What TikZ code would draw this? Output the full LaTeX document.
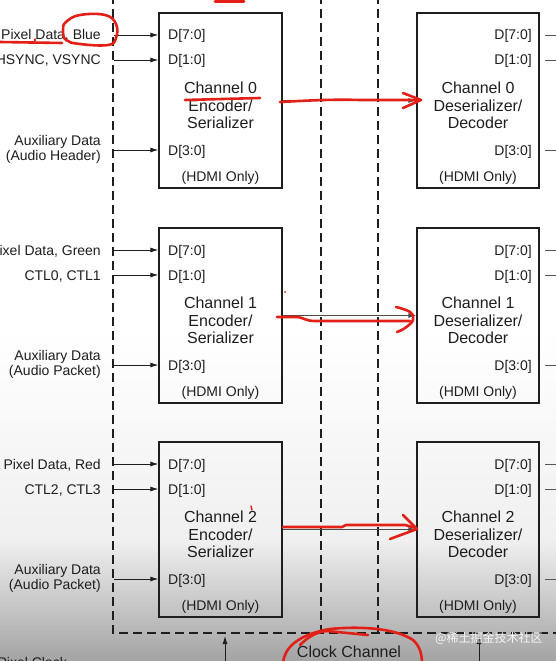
\documentclass[tikz,border=0pt]{standalone}
\usepackage{fontspec}
\setmainfont{Liberation Sans}
\newfontfamily\cjkfont{Noto Sans CJK SC}
\usetikzlibrary{arrows.meta}
\definecolor{ink}{HTML}{1E1E1E}
\definecolor{annot}{RGB}{226,32,24}
\tikzset{
  chbox/.style={draw=ink, line width=1.3pt, minimum width=123pt, minimum height=175pt, inner sep=0pt},
  port/.style={font=\fontsize{14}{15}\selectfont, text=ink, inner sep=0pt},
  title/.style={font=\fontsize{16}{17.5}\selectfont, text=ink, align=center, inner sep=0pt},
  inlabel/.style={font=\fontsize{14}{15}\selectfont, text=ink, inner sep=0pt, align=right},
  feed/.style={draw=ink, line width=0.9pt, -{Latex[length=8pt,width=5pt]}},
  outline/.style={draw=ink!75, line width=0.9pt},
  dashline/.style={draw=ink, line width=1.6pt, dash pattern=on 9pt off 5pt},
  redpen/.style={draw=annot, line width=2.6pt, line cap=round, line join=round},
}
\begin{document}
\begin{tikzpicture}[x=1pt,y=-1pt]
\useasboundingbox (0,0) rectangle (556,661);
\clip (0,0) rectangle (556,661);
\fill[white] (0,0) rectangle (556,661);
\shade[top color=white, bottom color=black!6] (0,330) rectangle (556,541);
\shade[top color=black!6, bottom color=black!36] (0,540) rectangle (556,661);

% dashed boundaries
\draw[dashline] (113,-5) -- (113,633) -- (565,633);
\draw[dashline] (321,-5) -- (321,633);
\draw[dashline] (378,-5) -- (378,633);

\foreach \i/\T/\pa/\pb/\ax in {0/13/{Pixel Data, Blue}/{HSYNC, VSYNC}/{Audio Header},
                               1/228/{Pixel Data, Green}/{CTL0, CTL1}/{Audio Packet},
                               2/442/{Pixel Data, Red}/{CTL2, CTL3}/{Audio Packet}} {
  \node[chbox] (enc\i) at (220.5,\T+87.5) {};
  \node[chbox, minimum width=122pt] (dec\i) at (478,\T+87.5) {};
  \node[title] (enct\i) at (220.5,\T+92.5) {Channel \i\\Encoder/\\Serializer};
  \node[title] (dect\i) at (478,\T+92.5) {Channel \i\\Deserializer/\\Decoder};
  % encoder ports
  \node[port, anchor=base west] (e7\i) at (168,\T+27) {D[7:0]};
  \node[port, anchor=base west] (e1\i) at (168,\T+52) {D[1:0]};
  \node[port, anchor=base west] (e3\i) at (168,\T+142) {D[3:0]};
  \node[port, anchor=base] (eh\i) at (220.5,\T+168) {(HDMI Only)};
  % decoder ports
  \node[port, anchor=base east] (d7\i) at (532,\T+27) {D[7:0]};
  \node[port, anchor=base east] (d1\i) at (532,\T+52) {D[1:0]};
  \node[port, anchor=base east] (d3\i) at (532,\T+142) {D[3:0]};
  \node[port, anchor=base] (dh\i) at (478,\T+168) {(HDMI Only)};
  % input labels
  \node[inlabel, anchor=base east] (la\i) at (101,\T+27) {\pa};
  \node[inlabel, anchor=base east] (lb\i) at (101,\T+52) {\pb};
  \node[inlabel, anchor=east] (lx\i) at (101,\T+136) {Auxiliary Data\\(\ax)};
  % input arrows
  \coordinate (ia\i) at (114,\T+22);
  \coordinate (ib\i) at (114,\T+47);
  \coordinate (ix\i) at (114,\T+137);
  \draw[feed] (ia\i) -- (ia\i -| enc\i.west);
  \draw[feed] (ib\i) -- (ib\i -| enc\i.west);
  \draw[feed] (ix\i) -- (ix\i -| enc\i.west);
  % outputs
  \coordinate (oa\i) at (545,\T+22);  \coordinate (oaa\i) at (560,\T+22);
  \coordinate (ob\i) at (545,\T+47);  \coordinate (obb\i) at (560,\T+47);
  \coordinate (ox\i) at (545,\T+137); \coordinate (oxx\i) at (560,\T+137);
  \draw[outline] (oa\i) -- (oaa\i);
  \draw[outline] (ob\i) -- (obb\i);
  \draw[outline] (ox\i) -- (oxx\i);
  % serial link
  \draw[feed, draw=ink!80] (enc\i) -- (dec\i);
}

% clock
\node[title] (clk) at (349,652) {Clock Channel};
\node[port, anchor=base east] (pclk) at (67,667) {Pixel Clock};
\coordinate (ck0) at (225,665); \coordinate (ck0t) at (225,636);
\coordinate (ck1) at (479,665); \coordinate (ck1t) at (479,636);
\draw[feed] (ck0) -- (ck0t);
\draw[feed] (ck1) -- (ck1t);

% watermark
\node[font=\cjkfont\fontsize{12}{12}\selectfont, text=gray!8, anchor=west, inner sep=0pt] (wm) at (435,638) {@稀土掘金技术社区};

% red hand annotations
\draw[redpen, line width=3pt] (215,1.5) -- (244,1.5);
\draw[redpen] plot[smooth cycle, tension=0.7] coordinates {(66,22) (80,15) (105,15) (116,24) (116,38) (108,45) (80,44) (66,40) (63,30)};
\draw[redpen] (0,42) -- (62,43);
\draw[redpen, line width=1.4pt] (35,39) -- (35,41);
\draw[redpen] (185,100) -- (260,98);
% arrow 0
\draw[redpen] (280,102) .. controls (300,101) and (330,99) .. (360,100) -- (419,100);
\draw[redpen] (403,93) -- (421,100) -- (403,108);
% arrow 1
\fill[annot] (285,292) circle (1pt);
\draw[redpen] (277,317) -- (298,317) .. controls (304,318) and (306,321) .. (315,321) -- (410,321);
\draw[redpen] plot[smooth, tension=0.7] coordinates {(396,307) (410,312) (413,320) (405,328) (397,332)};
% arrow 2
\draw[redpen, line width=1.4pt] (251,506) -- (252,510);
\draw[redpen] (283,527) -- (342,527) -- (346,525) -- (405,525) -- (416,528);
\draw[redpen] (403,515) -- (417,529) -- (390,539);
% clock channel circle
\draw[redpen] (283,663) .. controls (284,650) and (295,635) .. (330,629) .. controls (360,626) and (395,628) .. (413,640) .. controls (420,646) and (422,655) .. (422,663);
\draw[redpen] (300,645) .. controls (308,637) and (316,632) .. (327,631) -- (368,635);
\end{tikzpicture}
\end{document}
